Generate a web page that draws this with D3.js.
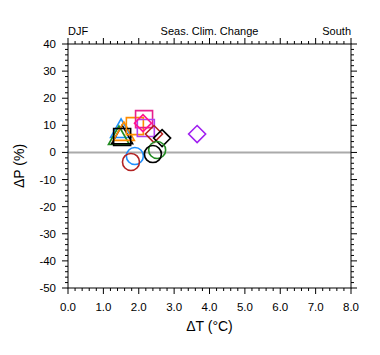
<!DOCTYPE html>
<html><head><meta charset="utf-8">
<script src="https://cdn.jsdelivr.net/npm/d3@7"></script>
<style>body{margin:0;background:#fff}svg text{font-family:"Liberation Sans",Arial,Helvetica,sans-serif}</style>
</head><body><svg id="c" width="380" height="355"></svg>
<script>
const xTicks = [0,1,2,3,4,5,6,7,8];
const yTicks = [40,30,20,10,0,-10,-20,-30,-40,-50];
const shapes = ["triangle","triangle","triangle","triangle","square","square","square","square","diamond","diamond","diamond","diamond","circle","circle","circle","circle"];
const colors = ["#1E90FF","#228B22","#000000","#FF8C00","#000000","#FF8C00","#E8208C","#B040F0","#FF1493","#B22222","#000000","#A020F0","#1E90FF","#B22222","#228B22","#000000"];
const dT = [1.50,1.44,1.53,1.58,1.53,1.89,2.15,2.20,2.12,2.43,2.66,3.65,1.89,1.78,2.52,2.40];
const dP = [8.3,5.7,6.0,7.2,5.7,9.7,12.3,9.0,10.8,6.8,5.3,6.8,-1.3,-3.5,0.9,-0.6];

const svg = d3.select("#c");
const L=68,R=351,T=44,B=288;
const x = d3.scaleLinear().domain([0,8]).range([L,R]);
const y = d3.scaleLinear().domain([-50,40]).range([B,T]);

svg.append("line").attr("x1",L).attr("x2",R).attr("y1",y(0)).attr("y2",y(0))
  .attr("stroke","#aaaaaa").attr("stroke-width",2);

svg.append("rect").attr("x",L).attr("y",T).attr("width",R-L).attr("height",B-T)
  .attr("fill","none").attr("stroke","#000").attr("stroke-width",1);

const g = svg.append("g");
const xMinor = d3.range(0,8.001,0.2);
const yMinor = d3.range(-50,40.001,2);
const isMajX = v => Math.abs(v-Math.round(v))<1e-6;
const isMajY = v => Math.abs(v/10-Math.round(v/10))<1e-6;
xMinor.forEach(v=>{
  const len = isMajX(v)?6:3;
  g.append("line").attr("x1",x(v)).attr("x2",x(v)).attr("y1",B).attr("y2",B+len).attr("stroke","#000");
  g.append("line").attr("x1",x(v)).attr("x2",x(v)).attr("y1",T).attr("y2",T-len).attr("stroke","#000");
});
yMinor.forEach(v=>{
  const len = isMajY(v)?6:3;
  g.append("line").attr("y1",y(v)).attr("y2",y(v)).attr("x1",L).attr("x2",L-len).attr("stroke","#000");
  g.append("line").attr("y1",y(v)).attr("y2",y(v)).attr("x1",R).attr("x2",R+len).attr("stroke","#000");
});
xTicks.forEach(v=>{
  svg.append("text").attr("x",x(v)).attr("y",B+23).attr("text-anchor","middle")
    .attr("font-size",11.5).text(v.toFixed(1));
});
yTicks.forEach(v=>{
  svg.append("text").attr("x",L-12).attr("y",y(v)+4).attr("text-anchor","end")
    .attr("font-size",11.5).text(v);
});

svg.append("text").attr("x",L).attr("y",35).attr("font-size",11).text("DJF");
svg.append("text").attr("x",(L+R)/2).attr("y",35).attr("text-anchor","middle").attr("font-size",11).text("Seas. Clim. Change");
svg.append("text").attr("x",R).attr("y",35).attr("text-anchor","end").attr("font-size",11).text("South");
svg.append("text").attr("x",(L+R)/2).attr("y",331).attr("text-anchor","middle").attr("font-size",14).text("ΔT (°C)");
svg.append("text").attr("transform",`translate(24,${(T+B)/2}) rotate(-90)`).attr("text-anchor","middle").attr("font-size",14).text("ΔP (%)");

function shapePath(s){
  if(s==="square"){const h=8.5;return `M${-h},${-h}H${h}V${h}H${-h}Z`;}
  if(s==="diamond"){const h=8.5;return `M0,${-h}L${h},0L0,${h}L${-h},0Z`;}
  if(s==="triangle"){return `M0,-11L10.5,7.5L-10.5,7.5Z`;}
  return null;
}
const pts = g.append("g");
dT.forEach((t,i)=>{
  const s = shapes[i];
  if(s==="circle"){
    pts.append("circle").attr("cx",x(t)).attr("cy",y(dP[i])).attr("r",8.5)
      .attr("fill","none").attr("stroke",colors[i]).attr("stroke-width",1.6);
  } else {
    pts.append("path").attr("d",shapePath(s)).attr("transform",`translate(${x(t)},${y(dP[i])})`)
      .attr("fill","none").attr("stroke",colors[i]).attr("stroke-width",1.6);
  }
});
</script></body></html>
